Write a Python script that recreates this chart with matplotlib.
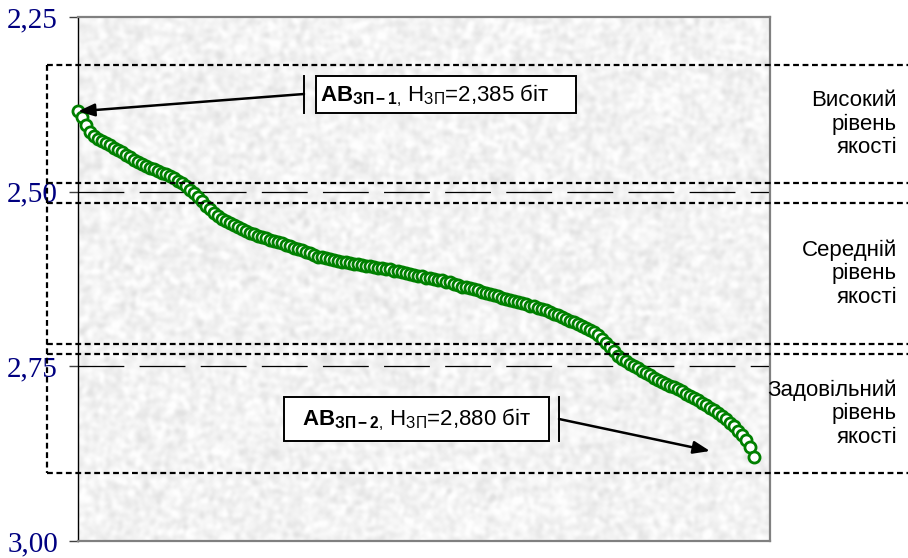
import numpy as np
import matplotlib
matplotlib.use("Agg")
import matplotlib.pyplot as plt
from matplotlib.lines import Line2D
from matplotlib.patches import Rectangle
from matplotlib.transforms import blended_transform_factory

plt.rcParams["lines.scale_dashes"] = False
plt.rcParams["mathtext.fontset"] = "custom"
plt.rcParams["mathtext.rm"] = "Liberation Sans"
plt.rcParams["mathtext.bf"] = "Liberation Sans:bold"
plt.rcParams["mathtext.it"] = "Liberation Sans:italic"

# Ranked entropy values of the alternatives (bits), best to worst
entropy = [
    2.385, 2.393, 2.405, 2.415, 2.420, 2.424, 2.427, 2.430, 2.433, 2.437,
    2.440, 2.443, 2.447, 2.450, 2.454, 2.457, 2.461, 2.463, 2.466, 2.468,
    2.471, 2.473, 2.475, 2.478, 2.481, 2.485, 2.488, 2.492, 2.497, 2.502,
    2.508, 2.514, 2.520, 2.525, 2.530, 2.535, 2.539, 2.542, 2.545, 2.548,
    2.551, 2.554, 2.557, 2.559, 2.561, 2.563, 2.565, 2.567, 2.569, 2.571,
    2.572, 2.574, 2.576, 2.578, 2.580, 2.582, 2.584, 2.586, 2.588, 2.591,
    2.593, 2.594, 2.595, 2.597, 2.598, 2.599, 2.600, 2.601, 2.602, 2.603,
    2.604, 2.605, 2.606, 2.607, 2.608, 2.609, 2.609, 2.610, 2.611, 2.613,
    2.614, 2.615, 2.616, 2.618, 2.619, 2.620, 2.621, 2.623, 2.624, 2.625,
    2.626, 2.627, 2.629, 2.630, 2.632, 2.634, 2.636, 2.637, 2.638, 2.640,
    2.641, 2.643, 2.645, 2.646, 2.648, 2.650, 2.652, 2.653, 2.655, 2.656,
    2.658, 2.659, 2.661, 2.663, 2.664, 2.666, 2.668, 2.670, 2.672, 2.675,
    2.677, 2.680, 2.682, 2.685, 2.687, 2.690, 2.692, 2.695, 2.698, 2.701,
    2.705, 2.711, 2.716, 2.722, 2.728, 2.735, 2.739, 2.743, 2.747, 2.750,
    2.753, 2.756, 2.759, 2.763, 2.766, 2.769, 2.772, 2.775, 2.778, 2.780,
    2.783, 2.786, 2.789, 2.792, 2.795, 2.798, 2.802, 2.806, 2.810, 2.813,
    2.817, 2.821, 2.826, 2.831, 2.836, 2.842, 2.848, 2.856, 2.866, 2.880,
]
rank = np.arange(len(entropy))

y_ticks = [2.25, 2.50, 2.75, 3.00]
y_tick_labels = ["2,25", "2,50", "2,75", "3,00"]
grid_levels = [2.50, 2.75]

# Quality bands: (top, bottom, caption)
band_top = [2.319, 2.516, 2.732]
band_bottom = [2.488, 2.718, 2.903]
band_labels = ["Високий\nрівень\nякості",
               "Середній\nрівень\nякості",
               "Задовільний\nрівень\nякості"]

W, H = 908, 558
fig = plt.figure(figsize=(W / 100, H / 100), dpi=100)
fig.patch.set_facecolor("white")


def fx(px):
    return px / W


def fy(py):
    return 1 - py / H


ax = fig.add_axes([fx(78), fy(541), fx(770) - fx(78), fy(17) - fy(541)])

# grainy paper-like plot background
rng = np.random.default_rng(11)
grain = rng.normal(size=(262, 346))
for _ in range(2):
    grain = (grain + np.roll(grain, 1, 0) + np.roll(grain, -1, 0)
             + np.roll(grain, 1, 1) + np.roll(grain, -1, 1)) / 5
grain = (grain - grain.mean()) / grain.std()
tex = np.clip(0.952 + 0.024 * grain, 0.88, 1.0)
ax.imshow(tex, cmap="gray", vmin=0, vmax=1, extent=(0, 1, 0, 1),
          transform=ax.transAxes, aspect="auto", interpolation="bicubic",
          zorder=0)

xmax = (770 - 78) / 4
ax.set_xlim(0, xmax)
ax.set_ylim(3.0, 2.25)

for lvl in grid_levels:
    ax.axhline(lvl, color="black", lw=0.9, dashes=(33, 11), zorder=1)

ax.plot(rank, entropy, linestyle="none", marker="o", ms=8,
        mfc="white", mec="#008000", mew=2.0, zorder=3, clip_on=False)

ax.set_xticks([])
ax.set_yticks(y_ticks)
ax.set_yticklabels(y_tick_labels, fontfamily="Liberation Serif",
                   fontsize=21, color="#000080")
ax.tick_params(axis="y", direction="out", length=6.5, width=1,
               color="#404040", pad=8)
for side in ("top", "right", "bottom"):
    ax.spines[side].set_color("#808080")
    ax.spines[side].set_linewidth(1.6)
ax.spines["left"].set_color("black")
ax.spines["left"].set_linewidth(1.0)

# dashed quality bands extending to the right margin
tr = blended_transform_factory(fig.transFigure, ax.transData)
x_left = fx(47)
for top, bot in zip(band_top, band_bottom):
    for lvl in (top, bot):
        fig.add_artist(Line2D([x_left, 1.0], [lvl, lvl], transform=tr,
                              color="black", lw=1.6, dashes=(4.2, 2.6)))
fig.add_artist(Line2D([x_left, x_left], [band_top[0], band_bottom[-1]],
                      transform=tr, color="black", lw=1.6, dashes=(4.2, 2.6)))

for top, bot, lab in zip(band_top, band_bottom, band_labels):
    fig.text(fx(897), (top + bot) / 2, lab, transform=tr, ha="right",
             va="center", multialignment="right",
             fontfamily="Liberation Sans", fontsize=16, linespacing=1.15,
             color="black")


def fmt(v):
    return f"{v:.3f}".replace(".", ",")


def callout(box, bar_x, text_x, text_y, label, start, tip, tip_coords):
    x0, y0, x1, y1 = box
    fig.add_artist(Rectangle((fx(x0), fy(y1)), fx(x1) - fx(x0),
                             fy(y0) - fy(y1), transform=fig.transFigure,
                             fc="white", ec="black", lw=1.4, zorder=5))
    fig.add_artist(Line2D([fx(bar_x), fx(bar_x)], [fy(y0), fy(y1)],
                          transform=fig.transFigure, color="black", lw=1.4,
                          zorder=5))
    fig.text(fx(text_x), fy(text_y), label, ha="left", va="baseline",
             fontfamily="Liberation Sans", fontsize=16, zorder=6)
    ax.annotate("", xy=tip, xycoords=tip_coords,
                xytext=(fx(start[0]), fy(start[1])),
                textcoords="figure fraction",
                arrowprops=dict(arrowstyle="-|>,head_length=1.0,head_width=0.38",
                                color="black", lw=1.8, shrinkA=0, shrinkB=0),
                zorder=6, annotation_clip=False)


label1 = (r"$\mathbf{АВ}_{\mathbf{ЗП-1}\mathrm{,}}$ Н$_{\mathrm{ЗП}}$="
          + fmt(entropy[0]) + " біт")
label2 = (r"$\mathbf{АВ}_{\mathbf{ЗП-2}\mathrm{,}}$ Н$_{\mathrm{ЗП}}$="
          + fmt(entropy[-1]) + " біт")

callout((316, 76, 576, 113), 304, 320, 101, label1, (304, 94),
        (rank[0], entropy[0]), "data")
callout((284, 397, 549, 441), 559, 302, 425, label2, (559, 419),
        (fx(710), fy(451)), "figure fraction")

fig.savefig("out.png", dpi=100)
